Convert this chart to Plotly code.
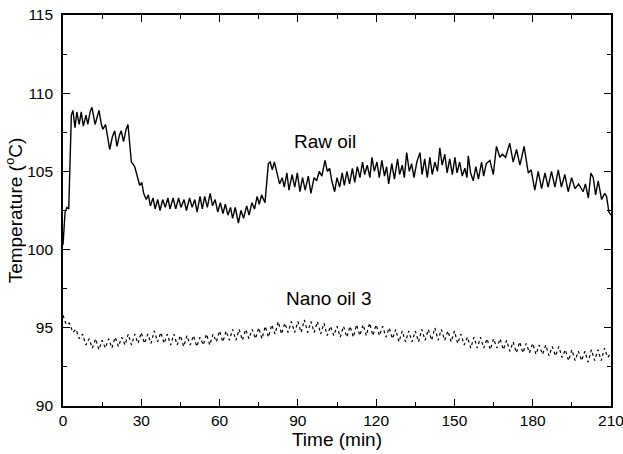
import plotly.graph_objects as go
import numpy as np

# Raw oil: (time, temperature) read at peaks/troughs
raw_t = [0.0, 0.8, 1.5, 2.2, 3.2, 3.8, 4.6, 5.3, 6.2, 7.0, 7.8, 8.8, 9.5, 10.4, 11.1, 12.3, 13.8, 14.7, 15.3, 16.3,
         17.9, 18.9, 19.8, 20.7, 21.6, 22.3, 23.2, 24.2, 24.9, 25.6, 26.2, 27.5, 28.5, 29.4, 30.2, 30.9, 31.9, 32.7, 33.5, 34.5,
         35.3, 36.3, 37.2, 38.2, 39.2, 40.2, 41.0, 42.2, 43.2, 44.3, 45.2, 46.4, 47.3, 48.5, 49.5, 50.5, 51.4, 52.5, 53.4, 54.3,
         55.3, 56.4, 57.3, 58.3, 59.3, 60.3, 61.3, 62.2, 63.2, 64.2, 65.0, 66.0, 67.2, 68.2, 69.2, 70.4, 71.3, 72.4, 73.4, 74.4,
         75.2, 76.1, 77.4, 78.7, 79.4, 80.2, 81.0, 82.0, 83.0, 84.0, 84.8, 85.8, 86.6, 87.8, 88.8, 89.8, 90.8, 91.8, 92.8, 94.0,
         95.0, 96.2, 97.2, 98.2, 99.2, 100.4, 101.3, 102.2, 103.0, 104.1, 105.0, 106.0, 107.0, 107.8, 108.8, 109.8, 110.9, 111.8, 112.8, 113.8,
         114.8, 115.6, 116.6, 117.6, 118.4, 119.3, 120.3, 121.2, 122.2, 123.2, 124.0, 124.8, 126.0, 127.0, 128.2, 129.0, 130.0, 130.8, 131.7, 132.7,
         133.6, 134.5, 135.6, 136.8, 137.6, 138.6, 139.6, 140.6, 141.5, 142.5, 143.5, 144.4, 145.3, 146.3, 147.2, 148.2, 149.2, 150.2, 151.0, 152.0,
         153.0, 154.0, 154.8, 155.3, 156.2, 157.2, 158.2, 159.2, 160.4, 161.2, 162.2, 163.6, 164.9, 166.1, 167.4, 168.4, 169.6, 171.2, 172.5, 173.8,
         175.1, 176.7, 177.6, 178.3, 179.4, 180.8, 182.1, 183.4, 184.7, 185.9, 187.2, 188.5, 189.8, 191.0, 192.3, 193.6, 194.9, 196.2, 197.6, 199.3,
         200.2, 201.3, 202.3, 203.2, 204.1, 205.1, 206.4, 207.6, 208.3, 209.2, 210.0]
raw_v = [100.3, 102.4, 102.7, 102.6, 108.6, 108.9, 107.8, 108.8, 108.0, 108.8, 107.9, 108.6, 108.0, 108.8, 109.1, 108.0, 108.9, 108.0, 107.7, 108.0,
         106.4, 107.2, 107.6, 106.6, 107.3, 107.6, 106.9, 107.7, 108.0, 106.8, 105.6, 105.3, 104.6, 104.1, 104.3, 103.6, 103.2, 103.5, 102.8, 103.3,
         102.6, 103.2, 102.5, 103.2, 102.7, 103.3, 102.6, 103.3, 102.6, 103.3, 102.7, 103.2, 102.5, 103.3, 102.7, 103.2, 102.4, 103.4, 102.6, 103.4,
         102.7, 103.6, 102.8, 103.2, 102.4, 103.0, 102.3, 102.9, 102.2, 102.7, 102.0, 102.7, 101.7, 102.5, 102.0, 102.8, 102.2, 103.0, 102.6, 103.4,
         102.9, 103.5, 103.0, 105.5, 105.6, 105.1, 105.6, 104.8, 104.2, 104.6, 104.0, 104.9, 103.8, 104.8, 104.0, 104.9, 103.7, 104.6, 103.8, 104.7,
         103.6, 104.6, 104.4, 105.0, 104.7, 105.7, 105.0, 105.2, 104.4, 103.7, 104.6, 104.0, 104.9, 104.1, 105.0, 104.2, 105.2, 104.3, 105.3, 104.6,
         105.6, 104.8, 105.4, 104.6, 105.9, 105.0, 105.6, 104.6, 105.7, 104.7, 105.3, 104.2, 105.5, 104.5, 105.8, 104.8, 105.4, 104.6, 106.2, 105.0,
         105.5, 104.6, 105.6, 106.2, 104.8, 105.8, 104.6, 105.9, 104.8, 105.6, 105.0, 106.5, 105.4, 106.1, 104.9, 105.8, 104.8, 105.9, 104.9, 105.6,
         104.7, 105.2, 104.6, 106.0, 104.9, 104.4, 105.3, 104.5, 105.6, 104.7, 105.5, 105.7, 104.8, 106.6, 105.9, 106.1, 105.9, 106.8, 105.6, 106.4,
         105.4, 106.6, 105.6, 104.9, 105.1, 103.8, 105.0, 103.9, 104.9, 104.0, 105.0, 104.0, 105.1, 104.0, 104.8, 103.7, 104.6, 103.9, 104.2, 103.7,
         104.2, 103.3, 104.9, 104.6, 103.5, 104.4, 103.2, 103.6, 103.4, 102.4, 102.2]

# Nano oil 3: sampled every 1.25 min
nano_step = 1.25
nano_v = [95.8, 95.2, 95.3, 94.7, 94.9, 94.3, 94.6, 93.9,
          94.3, 93.7, 94.3, 93.6, 94.2, 93.7, 94.3, 93.7,
          94.4, 93.8, 94.4, 93.9, 94.6, 93.9, 94.6, 94.0,
          94.7, 94.0, 94.6, 94.0, 94.8, 94.1, 94.7, 94.0,
          94.6, 93.9, 94.6, 93.9, 94.5, 93.8, 94.5, 93.9,
          94.5, 93.8, 94.4, 93.9, 94.6, 93.9, 94.6, 94.1,
          94.8, 94.1, 94.8, 94.2, 94.9, 94.2, 94.9, 94.2,
          94.9, 94.3, 94.9, 94.3, 95.0, 94.3, 95.1, 94.4,
          95.2, 94.6, 95.4, 94.6, 95.3, 94.7, 95.4, 94.7,
          95.4, 94.7, 95.5, 94.7, 95.4, 94.7, 95.4, 94.6,
          95.3, 94.5, 95.1, 94.5, 95.1, 94.4, 95.1, 94.4,
          95.1, 94.4, 95.2, 94.5, 95.2, 94.5, 95.3, 94.5,
          95.2, 94.5, 95.1, 94.4, 95.0, 94.3, 94.9, 94.1,
          94.8, 94.1, 94.8, 94.1, 94.8, 94.1, 94.9, 94.2,
          94.9, 94.2, 95.0, 94.2, 94.9, 94.2, 94.8, 94.1,
          94.8, 94.0, 94.6, 93.9, 94.4, 93.7, 94.4, 93.7,
          94.4, 93.7, 94.3, 93.6, 94.3, 93.7, 94.3, 93.6,
          94.2, 93.5, 94.1, 93.4, 94.1, 93.4, 94.0, 93.4,
          94.0, 93.3, 93.9, 93.3, 93.9, 93.2, 93.8, 93.2,
          93.8, 93.1, 93.6, 92.9, 93.6, 92.9, 93.5, 92.9,
          93.5, 92.8, 93.6, 92.9, 93.6, 92.9, 93.7, 93.1,
          93.4]
nano_t = np.arange(len(nano_v)) * nano_step

x_ticks = [0, 30, 60, 90, 120, 150, 180, 210]
y_ticks = [90, 95, 100, 105, 110, 115]

FONT = "Liberation Sans, Arial, sans-serif"

fig = go.Figure()
fig.add_trace(go.Scatter(x=raw_t, y=raw_v, mode="lines", name="Raw oil",
                         line=dict(color="black", width=1.4)))
fig.add_trace(go.Scatter(x=nano_t, y=nano_v, mode="lines", name="Nano oil 3",
                         line=dict(color="black", width=1.2, dash="dot")))

fig.add_annotation(x=100.4, y=106.9, text="Raw oil", showarrow=False,
                   font=dict(family=FONT, size=19, color="black"))
fig.add_annotation(x=101.9, y=96.9, text="Nano oil 3", showarrow=False,
                   font=dict(family=FONT, size=19, color="black"))

axis_common = dict(showline=True, linecolor="black", linewidth=1.6, mirror="ticks",
                   ticks="inside", ticklen=7, tickwidth=1.3, tickcolor="black",
                   showgrid=False, zeroline=False,
                   ticklabeloverflow="allow",
                   tickfont=dict(family=FONT, size=15.5, color="black"))

fig.update_xaxes(range=[0, 210], tickvals=x_ticks, automargin=False,
                 title=dict(text="Time (min)", font=dict(family=FONT, size=19, color="black"), standoff=0),
                 minor=dict(dtick=15, ticks="inside", ticklen=4, tickwidth=1.2, tickcolor="black"),
                 **axis_common)
fig.update_yaxes(range=[90, 115], tickvals=y_ticks, ticklabelstandoff=5, automargin="left",
                 title=dict(text="Temperature (<sup>o</sup>C)", font=dict(family=FONT, size=19, color="black"), standoff=0),
                 minor=dict(dtick=2.5, ticks="inside", ticklen=4, tickwidth=1.2, tickcolor="black"),
                 **axis_common)

fig.update_layout(width=623, height=454, margin=dict(l=63, r=12, t=15, b=48),
                  paper_bgcolor="white", plot_bgcolor="white", showlegend=False,
                  font=dict(family=FONT, color="black"))

fig.write_html("out.html", config={"displayModeBar": False},
               post_script="document.body.style.margin='0';document.body.style.overflow='hidden';")
